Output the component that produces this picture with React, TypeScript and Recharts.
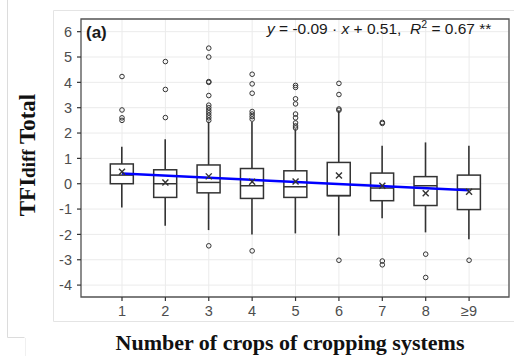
import React from 'react';
import { ComposedChart, Bar, Scatter, XAxis, YAxis, CartesianGrid, ReferenceArea } from 'recharts';

const categories = ['1', '2', '3', '4', '5', '6', '7', '8', '≥9'];
const xPos = [1, 2, 3, 4, 5, 6, 7, 8, 9];
const q1 = [0.0, -0.54, -0.36, -0.58, -0.54, -0.47, -0.67, -0.86, -1.02];
const median = [0.34, 0.0, 0.05, -0.08, -0.12, -0.47, -0.17, -0.08, -0.21];
const q3 = [0.78, 0.55, 0.74, 0.6, 0.51, 0.84, 0.42, 0.28, 0.34];
const whiskerLow = [-0.94, -1.66, -1.83, -2.0, -1.96, -2.05, -1.36, -1.92, -2.19];
const whiskerHigh = [1.46, 1.75, 2.45, 2.45, 2.15, 2.88, 1.5, 1.63, 1.5];
const means = [0.47, 0.05, 0.29, 0.08, 0.09, 0.32, -0.08, -0.38, -0.32];
const outliers: number[][] = [
  [4.23, 2.91, 2.6, 2.5],
  [4.82, 3.72, 2.61],
  [5.35, 5.0, 4.03, 4.0, 3.48, 3.1, 3.0, 2.9, 2.8, 2.7, 2.6, 2.5, -2.45],
  [4.32, 3.94, 3.57, 2.85, 2.75, 2.65, 2.55, -2.65],
  [3.88, 3.8, 3.35, 3.15, 2.75, 2.6, 2.4, 2.28, 2.2],
  [3.96, 3.52, 2.95, 2.9, -3.02],
  [2.42, 2.38, -3.05, -3.2],
  [-2.78, -3.7],
  [-3.02],
];
const regression = [
  { x: 1, y: 0.4 },
  { x: 9, y: -0.26 },
];
const yTicks = [-4, -3, -2, -1, 0, 1, 2, 3, 4, 5, 6];
const xDomain: [number, number] = [0.055, 9.92];
const yDomain: [number, number] = [-4.47, 6.5];

const rows = xPos.map((x, i) => ({
  x,
  range: [whiskerLow[i], whiskerHigh[i]],
  wl: whiskerLow[i],
  wh: whiskerHigh[i],
  q1: q1[i],
  med: median[i],
  q3: q3[i],
}));
const outlierPts = outliers.flatMap((vals, i) => vals.map((v) => ({ x: xPos[i], y: v })));
const meanPts = xPos.map((x, i) => ({ x, y: means[i] }));

const INK = '#333333';

const BoxShape = (props: any) => {
  const { x, y, width, height, payload } = props;
  if (payload == null || width == null) return null;
  const top = Math.min(y, y + height);
  const h = Math.abs(height);
  const ppu = h / (payload.wh - payload.wl);
  const yOf = (v: number) => top + (payload.wh - v) * ppu;
  const cx = x + width / 2;
  return (
    <g>
      <line x1={cx} x2={cx} y1={yOf(payload.wh)} y2={yOf(payload.q3)} stroke={INK} strokeWidth={1.6} />
      <line x1={cx} x2={cx} y1={yOf(payload.q1)} y2={yOf(payload.wl)} stroke={INK} strokeWidth={1.6} />
      <rect x={x} y={yOf(payload.q3)} width={width} height={yOf(payload.q1) - yOf(payload.q3)} fill="#ffffff" stroke={INK} strokeWidth={1.5} />
      <line x1={x} x2={x + width} y1={yOf(payload.med)} y2={yOf(payload.med)} stroke={INK} strokeWidth={1.5} />
    </g>
  );
};

const OutlierShape = (props: any) => {
  const { cx, cy } = props;
  if (cx == null || cy == null) return null;
  return <circle cx={cx} cy={cy} r={2.3} fill="none" stroke={INK} strokeWidth={1} />;
};

const MeanShape = (props: any) => {
  const { cx, cy } = props;
  if (cx == null || cy == null) return null;
  const s = 3;
  return (
    <g stroke={INK} strokeWidth={1.4}>
      <line x1={cx - s} y1={cy - s} x2={cx + s} y2={cy + s} />
      <line x1={cx - s} y1={cy + s} x2={cx + s} y2={cy - s} />
    </g>
  );
};

const NoShape = () => <g />;

const sans = "'Liberation Sans', Arial, sans-serif";
const serif = "'Liberation Serif', 'Times New Roman', serif";

export default function App() {
  return (
    <div style={{ position: 'absolute', left: 0, top: 0, width: 514, height: 356, background: '#ffffff', overflow: 'hidden' }}>
      <svg width={514} height={356} style={{ position: 'absolute', left: 0, top: 0 }}>
        <line x1={53.5} y1={10.5} x2={514} y2={10.5} stroke="#e4e4e4" />
        <line x1={53.5} y1={10.5} x2={53.5} y2={321.5} stroke="#e4e4e4" />
        <line x1={53.5} y1={321.5} x2={514} y2={321.5} stroke="#e4e4e4" />
        <line x1={7.5} y1={0} x2={7.5} y2={337.5} stroke="#dcdcdc" />
        <line x1={7.5} y1={337.5} x2={24.5} y2={337.5} stroke="#dcdcdc" />
        <line x1={25.5} y1={338} x2={25.5} y2={356} stroke="#f0f0f0" />
      </svg>
      <div style={{ position: 'absolute', left: 0, top: 0 }}>
        <ComposedChart width={514} height={356} data={rows} margin={{ top: 19, right: 5, bottom: 35, left: 51 }}>
          <CartesianGrid stroke="#ebebeb" strokeWidth={1} />
          <XAxis
            dataKey="x"
            type="number"
            domain={xDomain}
            ticks={xPos}
            allowDataOverflow
            interval={0}
            height={24}
            axisLine={false}
            tickLine={{ stroke: INK, strokeWidth: 1.2 }}
            tickSize={4}
            tickMargin={5}
            tick={{ fill: '#4d4d4d', fontSize: 14.5, fontFamily: sans }}
            tickFormatter={(v: number) => categories[v - 1] ?? ''}
          />
          <YAxis
            type="number"
            domain={yDomain}
            ticks={yTicks}
            allowDataOverflow
            interval={0}
            width={30}
            axisLine={false}
            tickLine={{ stroke: INK, strokeWidth: 1.2 }}
            tickSize={4}
            tickMargin={5}
            tick={{ fill: '#4d4d4d', fontSize: 14.5, fontFamily: sans }}
          />
          <Bar dataKey="range" barSize={23} shape={BoxShape} isAnimationActive={false} />
          <Scatter data={regression} dataKey="y" line={{ stroke: '#0000ff', strokeWidth: 2.5 }} shape={NoShape} isAnimationActive={false} />
          <Scatter data={outlierPts} dataKey="y" shape={OutlierShape} isAnimationActive={false} />
          <Scatter data={meanPts} dataKey="y" shape={MeanShape} isAnimationActive={false} />
          <ReferenceArea x1={xDomain[0]} x2={xDomain[1]} y1={yDomain[0]} y2={yDomain[1]} fill="none" stroke="#555555" strokeWidth={1.3} ifOverflow="visible" />
        </ComposedChart>
      </div>
      <svg width={514} height={356} style={{ position: 'absolute', left: 0, top: 0, pointerEvents: 'none' }}>
        <text x={86} y={38} fontFamily={sans} fontWeight="bold" fontSize={17} fill="#1a1a1a">(a)</text>
        <text x={267} y={34} fontFamily={sans} fontSize={15.5} fill="#1a1a1a" style={{ whiteSpace: 'pre' }}>
          <tspan fontStyle="italic">y</tspan>
          <tspan>{' = -0.09 · '}</tspan>
          <tspan fontStyle="italic">x</tspan>
          <tspan>{' + 0.51,  '}</tspan>
          <tspan fontStyle="italic">R</tspan>
          <tspan fontSize={10.5} dy={-6}>2</tspan>
          <tspan dy={6}>{' = 0.67 **'}</tspan>
        </text>
        <text transform="translate(35,155) rotate(-90)" textAnchor="middle" fontFamily={serif} fontWeight="bold" fontSize={23} fill="#111">
          <tspan>TFI</tspan>
          <tspan fontSize={19}>diff</tspan>
          <tspan>{' Total'}</tspan>
        </text>
        <text x={290} y={350} textAnchor="middle" fontFamily={serif} fontWeight="bold" fontSize={22} fill="#111">
          Number of crops of cropping systems
        </text>
      </svg>
    </div>
  );
}
